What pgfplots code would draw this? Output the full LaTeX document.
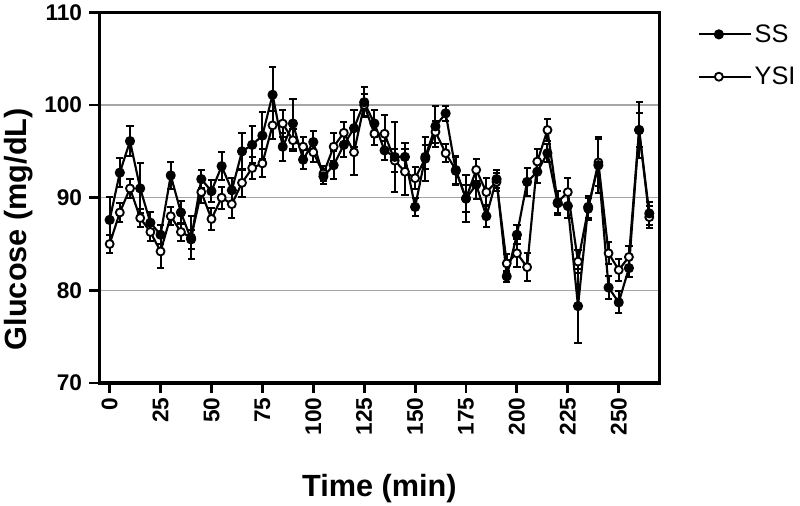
\documentclass[border=0pt]{standalone}
\usepackage{fontspec}
\setmainfont{Liberation Sans}
\usepackage{pgfplots}
\usepackage{pgfplotstable}
\pgfplotsset{compat=1.18}

% glucose readings every 5 min: sensor (SS) and reference analyser (YSI)
\pgfplotstableread{
t    ss     sse   ysi    ysie
0    87.6   2.5   85.0   1.0
5    92.7   1.6   88.4   1.0
10   96.1   1.6   91.0   1.0
15   91.0   2.7   87.8   1.0
20   87.3   1.2   86.3   1.0
25   86.0   1.0   84.2   1.8
30   92.4   1.5   88.0   1.0
35   88.4   1.2   86.3   1.0
40   85.5   1.0   85.7   2.3
45   92.0   1.0   90.6   1.2
50   90.7   1.2   87.7   1.2
55   93.4   1.5   90.0   1.2
60   90.8   1.3   89.3   1.5
65   95.0   2.0   91.6   1.5
70   95.7   2.0   93.2   1.2
75   96.7   2.5   93.7   1.5
80   101.1  3.0   97.8   1.5
85   95.5   1.5   98.0   1.5
90   98.0   2.7   96.2   1.2
95   94.1   1.0   95.5   1.0
100  96.0   1.2   94.9   1.0
105  92.3   0.8   92.6   0.8
110  93.5   1.5   95.5   1.5
115  95.7   1.3   97.0   1.2
120  97.5   2.0   94.9   2.5
125  100.3  1.6   100.0  1.2
130  98.0   1.5   96.9   1.2
135  95.1   1.0   96.9   2.0
140  94.4   3.8   94.0   1.2
145  94.4   1.5   92.8   2.5
150  89.0   1.0   92.1   1.2
155  94.4   1.3   94.2   2.4
160  97.7   2.2   97.1   1.2
165  99.1   0.8   94.8   1.0
170  92.9   1.5   93.0   1.5
175  89.9   2.5   89.9   1.5
180  91.4   1.5   93.0   1.2
185  88.0   1.2   90.6   1.5
190  92.0   1.0   91.7   1.0
195  81.5   0.6   82.9   1.0
200  86.0   1.0   84.0   1.5
205  91.7   1.5   82.5   1.5
210  92.8   1.2   93.9   1.3
215  94.8   1.0   97.3   1.2
220  89.4   1.3   89.5   1.2
225  89.1   1.3   90.6   1.5
230  78.3   4.0   83.1   1.2
235  89.0   1.2   88.8   1.2
240  93.5   3.0   93.8   2.5
245  80.3   1.2   84.0   1.2
250  78.7   1.2   82.2   1.2
255  82.4   1.0   83.6   1.2
260  97.3   3.0   97.3   1.8
265  88.3   1.2   87.9   1.2
}\glucose

\pgfplotsset{
    sem/.style={
        error bars/y dir=both,
        error bars/y explicit,
        error bars/error bar style={line width=1.5pt},
        error bars/error mark options={rotate=90, mark size=2.7pt, line width=1.5pt},
    },
}

\begin{document}
\begin{tikzpicture}
\path[use as bounding box] (-74.6pt,-92.25pt) rectangle (525.4pt,287.25pt);
\begin{axis}[
    scale only axis,
    width=420pt, height=278pt,
    xmin=-5, xmax=270, ymin=70, ymax=110,
    xtick={0,25,...,250}, ytick={70,80,...,110},
    xtick pos=left, ytick pos=left,
    tick align=outside, major tick length=7.5pt,
    tick style={line width=2.2pt, black},
    axis line style={line width=2.4pt},
    ymajorgrids, grid style={line width=1pt, gray!70},
    /pgf/number format/assume math mode=true,
    ticklabel style={font=\bfseries\fontsize{17}{17}\selectfont},
    xticklabel style={rotate=90, anchor=east},
    yticklabel style={xshift=-2pt},
    xlabel={Time (min)}, ylabel={Glucose (mg/dL)},
    label style={font=\bfseries\fontsize{23}{23}\selectfont},
    xlabel style={yshift=-22pt},
    ylabel style={at={(axis description cs:-0.171,0.415)}, anchor=north,
        inner sep=0pt},
    legend style={at={(rel axis cs:1.068,0.975)}, anchor=north west,
        draw=none, fill=none, font=\fontsize{19}{19}\selectfont,
        row sep=13pt, inner sep=0pt},
    legend cell align=left,
    legend image code/.code={
        \path (0pt,0pt) -- (39pt,0pt);
        \draw[mark repeat=2, mark phase=2, #1]
        plot coordinates {(0pt,0pt) (15pt,0pt) (30pt,0pt)};},
    reverse legend,
    every axis plot/.append style={black, line width=1.6pt, line join=round},
]
\addplot[sem, mark=*, mark size=3pt, mark options={fill=white, line width=1.4pt}]
    table[x=t, y=ysi, y error=ysie] {\glucose};
\addlegendentry{YSI}
\addplot[sem, mark=*, mark size=3pt, mark options={fill=black}]
    table[x=t, y=ss, y error=sse] {\glucose};
\addlegendentry{SS}
\end{axis}
\end{tikzpicture}
\end{document}
